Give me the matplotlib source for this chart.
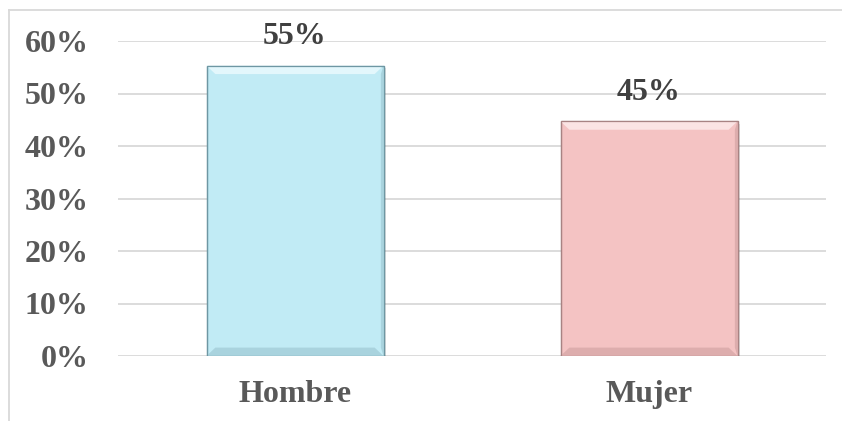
import matplotlib
matplotlib.use("Agg")
import matplotlib.pyplot as plt
from matplotlib.patches import Rectangle, Polygon
from matplotlib.lines import Line2D

categories = ["Hombre", "Mujer"]
values = [55.3, 44.7]
labels = ["55%", "45%"]
yticks = [0, 10, 20, 30, 40, 50, 60]
ytick_labels = ["0%", "10%", "20%", "30%", "40%", "50%", "60%"]

face_colors = ["#C1EBF5", "#F4C3C3"]
edge_colors = ["#6E97A3", "#A88383"]
light_colors = ["#E3F7FC", "#FBE3E3"]
dark_colors = ["#A9D3DE", "#DDADAD"]

W, H = 842, 421
fig = plt.figure(figsize=(W / 100, H / 100), dpi=100)
ax = fig.add_axes([118 / W, (H - 356) / H, (826 - 118) / W, (356 - 41) / H])

font = "Liberation Serif"
fs = 23
x = list(range(len(categories)))
bw = 0.5

ax.set_ylim(0, 60)
ax.set_xlim(-0.5, len(categories) - 0.5)
for t in yticks:
    ax.axhline(t, color="#D9D9D9", lw=1.3, zorder=0)

for i, v in enumerate(values):
    x0 = x[i] - bw / 2
    ax.add_patch(Rectangle((x0 + 0.006, -0.5), bw, v, facecolor="#000000", alpha=0.12,
                           edgecolor="none", zorder=1))
    ax.add_patch(Rectangle((x0, 0), bw, v, facecolor=face_colors[i], edgecolor=edge_colors[i],
                           lw=0.9, zorder=2))
    dx = 0.025
    dy = 1.6
    ax.add_patch(Polygon([(x0, v), (x0 + bw, v), (x0 + bw - dx, v - dy), (x0 + dx, v - dy)],
                         closed=True, facecolor=light_colors[i], edgecolor="none", zorder=3))
    ax.add_patch(Polygon([(x0, 0), (x0 + bw, 0), (x0 + bw - dx, dy), (x0 + dx, dy)],
                         closed=True, facecolor=dark_colors[i], edgecolor="none", zorder=3))
    ax.add_patch(Polygon([(x0 + bw, 0), (x0 + bw, v), (x0 + bw - dx * 0.3, v - dy), (x0 + bw - dx * 0.3, dy)],
                         closed=True, facecolor=dark_colors[i], edgecolor="none", zorder=3))
    ax.add_patch(Rectangle((x0, 0), bw, v, facecolor="none", edgecolor=edge_colors[i],
                           lw=0.9, zorder=4))
    ax.annotate(labels[i], (x[i], v), xytext=(0, 21), textcoords="offset points",
                ha="center", va="center", fontsize=fs, fontweight="bold",
                family=font, color="#404040", zorder=5)

ax.set_yticks(yticks)
ax.set_yticklabels(ytick_labels, fontsize=fs, fontweight="bold", family=font, color="#595959")
ax.set_xticks(x)
ax.set_xticklabels(categories, fontsize=fs, fontweight="bold", family=font, color="#595959")
ax.tick_params(axis="y", length=0, pad=21)
ax.tick_params(axis="x", length=0, pad=17)
for s in ax.spines.values():
    s.set_visible(False)

fig.add_artist(Line2D([9 / W, 1], [1 - 10 / H, 1 - 10 / H], color="#D9D9D9", lw=1.3))
fig.add_artist(Line2D([9 / W, 9 / W], [0, 1 - 10 / H], color="#D9D9D9", lw=1.3))

fig.savefig("out.png", dpi=100)
